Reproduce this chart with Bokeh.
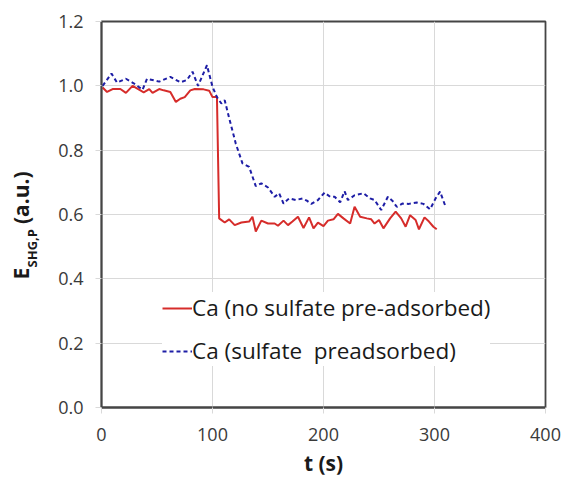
from bokeh.plotting import figure
from bokeh.models import Range1d, FixedTicker, NumeralTickFormatter, Legend, LegendItem, LinearAxis
from bokeh.embed import file_html
from bokeh.resources import INLINE

# Data
t_red = [1, 5, 10, 17, 22, 28, 35, 38, 43, 46, 52, 56, 62, 67, 71, 75, 80, 84, 92, 97, 100, 104,
         106, 111, 115, 120, 126, 133, 136, 139, 144, 150, 156, 159, 164, 168, 172, 177, 182, 187,
         191, 195, 200, 204, 209, 213, 218, 224, 228, 233, 239, 243, 246, 250, 254, 260, 265, 270,
         274, 278, 283, 286, 291, 295, 299, 302]
e_red = [0.995, 0.981, 0.990, 0.990, 0.978, 1.000, 0.986, 0.980, 0.990, 0.978, 0.990, 0.986, 0.981,
         0.950, 0.960, 0.965, 0.986, 0.990, 0.989, 0.985, 0.965, 0.965,
         0.588, 0.575, 0.585, 0.567, 0.575, 0.578, 0.593, 0.547, 0.581, 0.572, 0.572, 0.565, 0.581,
         0.567, 0.578, 0.593, 0.558, 0.591, 0.557, 0.575, 0.564, 0.581, 0.585, 0.602, 0.588, 0.572,
         0.624, 0.593, 0.588, 0.585, 0.572, 0.583, 0.557, 0.588, 0.609, 0.588, 0.562, 0.598, 0.583,
         0.554, 0.591, 0.578, 0.562, 0.554]

t_blue = [1, 9, 14, 22, 29, 37, 41, 52, 62, 71, 77, 82, 87, 95, 100, 104, 108, 111, 115, 121, 127,
          133, 139, 144, 150, 156, 160, 164, 169, 175, 181, 185, 189, 195, 201, 206, 210, 215, 219,
          222, 228, 236, 242, 246, 252, 258, 262, 266, 271, 277, 284, 290, 296, 301, 305, 310]
e_blue = [1.000, 1.038, 1.010, 1.022, 1.008, 0.988, 1.022, 1.013, 1.028, 1.011, 1.018, 1.044, 1.000,
          1.064, 0.997, 0.965, 0.945, 0.955, 0.900, 0.820, 0.759, 0.748, 0.688, 0.697, 0.684, 0.655,
          0.666, 0.634, 0.650, 0.645, 0.650, 0.643, 0.633, 0.645, 0.668, 0.655, 0.655, 0.638, 0.672,
          0.645, 0.660, 0.666, 0.650, 0.645, 0.614, 0.655, 0.643, 0.624, 0.634, 0.633, 0.637, 0.633,
          0.616, 0.650, 0.671, 0.624]

x_ticks = [0, 100, 200, 300, 400]
y_ticks = [0.0, 0.2, 0.4, 0.6, 0.8, 1.0, 1.2]
label_red = "Ca (no sulfate pre-adsorbed)"
label_blue = "Ca (sulfate  preadsorbed)"
x_title = "t (s)"
y_title_main = "E"
y_title_sub = "SHG,P"
y_title_unit = "(a.u.)"

FONT = "Open Sans"
GRID = "#d9d9d9"
FRAME = "#454545"
INK = "#1a1a1a"
NB = "\u00a0"

p = figure(width=563, height=479, output_backend="svg", toolbar_location=None,
           x_range=Range1d(0, 400), y_range=Range1d(0, 1.2),
           min_border_left=101, min_border_right=18, min_border_top=21, min_border_bottom=71)
p.background_fill_color = "white"
p.border_fill_color = "white"
p.outline_line_color = FRAME
p.outline_line_width = 1.8

for ax in (p.xaxis, p.yaxis):
    ax.axis_line_color = FRAME
    ax.axis_line_width = 1.8
    ax.major_tick_line_color = GRID
    ax.major_tick_out = 6
    ax.major_tick_in = 0
    ax.minor_tick_line_color = None
    ax.major_label_text_font = FONT
    ax.major_label_text_font_size = "18px"
    ax.major_label_text_color = "#3a3a3a"

p.xaxis.ticker = FixedTicker(ticks=x_ticks)
p.yaxis.ticker = FixedTicker(ticks=y_ticks)
p.yaxis.formatter = NumeralTickFormatter(format="0.0")
p.xaxis.major_label_standoff = 14
p.yaxis.major_label_standoff = 12

p.xaxis.axis_label = x_title
p.xaxis.axis_label_text_font = FONT
p.xaxis.axis_label_text_font_style = "bold"
p.xaxis.axis_label_text_font_size = "21px"
p.xaxis.axis_label_text_color = INK
p.xaxis.axis_label_standoff = 5

# subscript part of the y title on the main y axis (closest to the tick labels)
p.yaxis.axis_label = y_title_sub + NB * 20
p.yaxis.axis_label_text_font = FONT
p.yaxis.axis_label_text_font_style = "bold"
p.yaxis.axis_label_text_font_size = "13px"
p.yaxis.axis_label_text_color = INK
p.yaxis.axis_label_standoff = 14

# main part of the y title on an extra, otherwise empty, axis further out
outer = LinearAxis(ticker=FixedTicker(ticks=[]), axis_line_color=None,
                   major_tick_line_color=None, minor_tick_line_color=None,
                   axis_label=y_title_main + NB * 8 + y_title_unit + NB * 4,
                   axis_label_text_font=FONT, axis_label_text_font_style="bold",
                   axis_label_text_font_size="21px", axis_label_text_color=INK,
                   axis_label_standoff=-14)
p.add_layout(outer, "left")

p.xgrid.grid_line_color = GRID
p.ygrid.grid_line_color = GRID
p.xgrid.ticker = FixedTicker(ticks=x_ticks)
p.ygrid.ticker = FixedTicker(ticks=y_ticks)

r_red = p.line(t_red, e_red, line_color="#d62c2a", line_width=2)
r_blue = p.line(t_blue, e_blue, line_color="#1e1ea6", line_width=2, line_dash="4 3")

legend = Legend(items=[LegendItem(label=label_red, renderers=[r_red]),
                       LegendItem(label=label_blue, renderers=[r_blue])],
                location=(61, 41), orientation="vertical")
legend.label_text_font = FONT
legend.label_text_font_size = "22.5px"
legend.label_text_color = INK
legend.glyph_width = 30
legend.glyph_height = 26
legend.label_height = 26
legend.label_standoff = 0
legend.spacing = 12
legend.padding = 12
legend.margin = 0
legend.border_line_color = None
legend.background_fill_color = "white"
legend.background_fill_alpha = 1.0
p.add_layout(legend, "center")

open("out.html", "w").write(file_html(p, INLINE))
